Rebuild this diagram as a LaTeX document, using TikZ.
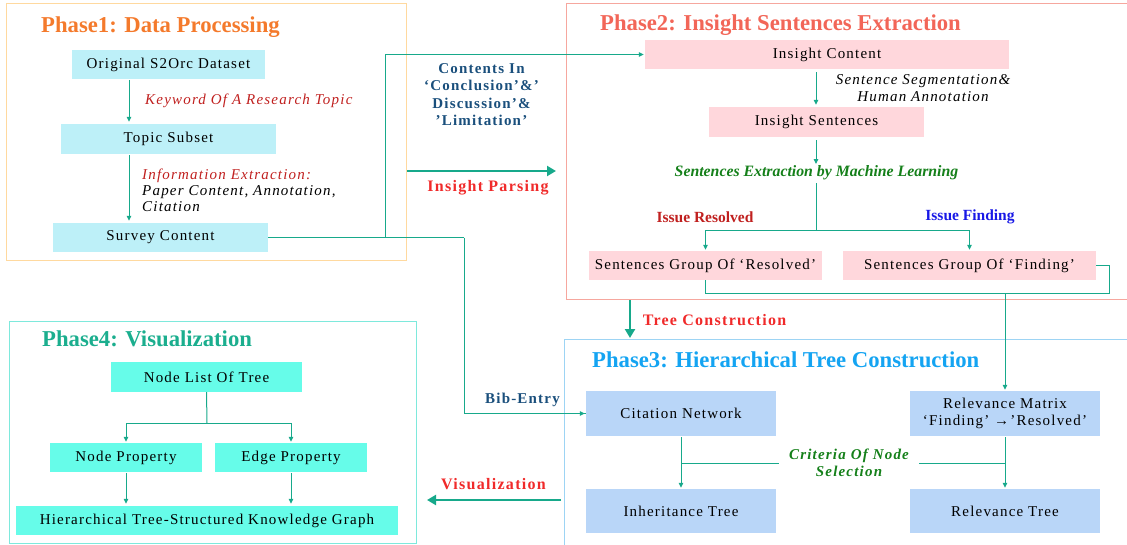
\documentclass[tikz,border=0pt]{standalone}
\usepackage{fontspec}
\setmainfont{Liberation Serif}
\newfontfamily\spacedserif[LetterSpace=8]{Liberation Serif}
\usetikzlibrary{arrows.meta}
\definecolor{lc}{HTML}{17A98B}
\definecolor{f1}{HTML}{BDF0F8}
\definecolor{f2}{HTML}{FFD7DC}
\definecolor{f3}{HTML}{B9D6F8}
\definecolor{f4}{HTML}{66FCE9}
\definecolor{fr1}{HTML}{FFD99F}
\definecolor{fr2}{HTML}{F6A79E}
\definecolor{fr3}{HTML}{9DD4F4}
\definecolor{fr4}{HTML}{7EE9DC}
\definecolor{t1}{HTML}{F47A2C}
\definecolor{t2}{HTML}{F26658}
\definecolor{t3}{HTML}{14A4F2}
\definecolor{t4}{HTML}{1BAE8E}
\definecolor{brightred}{HTML}{F02A2A}
\definecolor{darkred}{HTML}{C0201F}
\definecolor{issueblue}{HTML}{1818E6}
\definecolor{navy}{HTML}{1A4F7C}
\definecolor{dgreen}{HTML}{15801A}
\newcommand\mybodyfont{\spacedserif\fontsize{15}{17}\selectfont}
\newcommand\mytitlefont{\bfseries\fontsize{22.7}{26}\selectfont}
\begin{document}
\begin{tikzpicture}[x=1pt,y=-1pt,
  conn/.style={draw=lc, line width=1pt, -{Triangle[length=5pt,width=4.5pt]}},
  lnk/.style={draw=lc, line width=1pt},
  bigarrow/.style={draw=lc, line width=2.6pt, -{Triangle[length=9pt,width=10pt]}},
  nbox/.style={inner sep=0pt, align=center, font=\mybodyfont, text=black},
  b1/.style={nbox, fill=f1},
  b2/.style={nbox, fill=f2},
  b3/.style={nbox, fill=f3},
  b4/.style={nbox, fill=f4},
  ptitle/.style={anchor=base west, inner sep=0pt, font=\mytitlefont},
  frame/.style={line width=0.8pt},
  lab/.style={inner sep=0pt, align=center, font=\mybodyfont},
  slab/.style={inner sep=0pt, align=center, font=\bfseries\fontsize{15.5}{18}\selectfont},
  redlab/.style={lab, font=\spacedserif\bfseries\fontsize{16}{18}\selectfont, brightred},
]
\useasboundingbox (0,0) rectangle (1127,544);
% frames
\draw[frame, fr1] (6.5,3.5) rectangle (406.5,260);
\draw[frame, fr2] (566.5,3.5) rectangle (1140,299);
\draw[frame, fr3] (564.5,339) rectangle (1140,560);
\draw[frame, fr4] (9.5,321.5) rectangle (416,543);
% titles
\node[ptitle, t1] (ti1) at (41,32) {Phase1: Data Processing};
\node[ptitle, t2] (ti2) at (600,30) {Phase2: Insight Sentences Extraction};
\node[ptitle, t3] (ti3) at (592,367) {Phase3: Hierarchical Tree Construction};
\node[ptitle, t4] (ti4) at (42,346) {Phase4: Visualization};

% Phase 1
\node[b1, minimum width=193pt, minimum height=29pt] (orig) at (168.5,64.5) {Original S2Orc Dataset};
\node[b1, minimum width=215pt, minimum height=30pt] (topic) at (168.5,139) {Topic Subset};
\node[b1, minimum width=215pt, minimum height=29pt] (survey) at (160.5,237.5) {Survey Content};
\coordinate (ax1) at (129,0);
\draw[conn, shorten >=2pt, shorten <=1pt] (orig.south -| ax1) -- (topic.north -| ax1);
\draw[conn, shorten >=2pt, shorten <=1pt] (topic.south -| ax1) -- (survey.north -| ax1);
\node[lab, anchor=west, font=\mybodyfont\itshape, darkred] (kw) at (145,101) {Keyword Of A Research Topic};
\node[lab, anchor=west, align=left, font=\spacedserif\itshape\fontsize{15}{16}\selectfont] (ie) at (142,190)
  {\textcolor{darkred}{Information Extraction:}\\Paper Content, Annotation,\\Citation};

% Phase 2
\node[b2, minimum width=364pt, minimum height=29pt] (ic) at (827,54.5) {Insight Content};
\node[b2, minimum width=215pt, minimum height=30pt] (is) at (816.5,122) {Insight Sentences};
\coordinate (ax2) at (816,0);
\draw[conn, shorten >=2pt, shorten <=3pt] (ic.south -| ax2) -- (is.north -| ax2);
\node[lab, font=\spacedserif\itshape\fontsize{15}{17}\selectfont] (seg) at (923,88.5) {Sentence Segmentation\&\\Human Annotation};
\node[slab, font=\bfseries\itshape\fontsize{15.8}{18}\selectfont, dgreen] (ml) at (816.5,173) {Sentences Extraction by Machine Learning};
\coordinate (mlin) at (816,164);
\draw[conn, shorten <=3pt] (is.south -| ax2) -- (mlin);
\coordinate (mlout) at (816,183);
\coordinate (split) at (816,230);
\node[b2, minimum width=233pt, minimum height=29pt] (gr) at (705.5,265.5) {Sentences Group Of ‘Resolved’};
\node[b2, minimum width=253pt, minimum height=29pt] (gf) at (969.5,265.5) {Sentences Group Of ‘Finding’};
\draw[lnk] (mlout) -- (split);
\draw[conn, shorten >=1pt] (split) -| (gr.north);
\draw[conn, shorten >=1pt] (split) -| (gf.north);
\node[slab, darkred] (ir) at (705,217) {Issue Resolved};
\node[slab, issueblue] (ifd) at (970,217) {Issue Finding};
\coordinate (gjoin) at (1005,293);
\coordinate (gright) at (1109,293);
\draw[lnk] (gr.south) |- (gright) |- (gf.east);

% middle connectors
\coordinate (jn1) at (385,237.5);
\coordinate (jn2) at (464,237.5);
\draw[lnk] (survey.east) -- (jn2);
\draw[conn, shorten >=1pt] (jn1) |- (ic.west);
\node[lab, font=\spacedserif\bfseries\fontsize{15}{17.5}\selectfont, navy] (contents) at (481.5,94.5)
  {Contents In\\‘Conclusion’\&’\\Discussion’\&\\’Limitation’};
\coordinate (ip1) at (407,171);
\coordinate (ip2) at (556,171);
\draw[bigarrow] (ip1) -- (ip2);
\node[redlab] (ipl) at (488,188) {Insight Parsing};
\coordinate (tc1) at (630,300);
\coordinate (tc2) at (630,338);
\draw[bigarrow] (tc1) -- (tc2);
\node[redlab] (tcl) at (714.5,320) {Tree Construction};
\coordinate (vz1) at (561,500);
\coordinate (vz2) at (427,500);
\draw[bigarrow] (vz1) -- (vz2);
\node[redlab] (vzl) at (493.5,484) {Visualization};

% Phase 3
\node[b3, minimum width=190pt, minimum height=45pt] (cit) at (681,413.5) {Citation Network};
\node[b3, minimum width=190pt, minimum height=44pt] (inh) at (681,511) {Inheritance Tree};
\node[b3, minimum width=190pt, minimum height=45pt, font=\spacedserif\fontsize{15}{17}\selectfont] (rm) at (1005,413.5) {Relevance Matrix\\‘Finding’ →’Resolved’};
\node[b3, minimum width=190pt, minimum height=44pt] (rt) at (1005,511) {Relevance Tree};
\draw[lnk] (jn2) |- (cit.west);
\draw[conn, shorten >=1pt] (jn2 |- cit.west) -- (cit.west);
\node[lab, font=\spacedserif\bfseries\fontsize{15}{17}\selectfont, navy] (bib) at (522.5,400) {Bib-Entry};
\draw[conn, shorten >=1pt] (gjoin) -- (rm.north);
\draw[conn, shorten >=1pt, shorten <=1pt] (cit.south) -- (inh.north);
\draw[conn, shorten >=1pt, shorten <=1pt] (rm.south) -- (rt.north);
\node[lab, font=\spacedserif\bfseries\itshape\fontsize{15}{17}\selectfont, dgreen, minimum width=140pt] (crit) at (849,463) {Criteria Of Node\\Selection};
\coordinate (cr1) at (681,463);
\coordinate (cr2) at (1005,463);
\draw[lnk] (cr1) -- (crit.west);
\draw[lnk] (crit.east) -- (cr2);

% Phase 4
\node[b4, minimum width=191pt, minimum height=30pt] (nl) at (206.5,377) {Node List Of Tree};
\node[b4, minimum width=152pt, minimum height=29pt] (np) at (126,457.5) {Node Property};
\node[b4, minimum width=152pt, minimum height=29pt] (ep) at (291,457.5) {Edge Property};
\node[b4, minimum width=382pt, minimum height=29pt] (hk) at (207,520.5) {Hierarchical Tree-Structured Knowledge Graph};
\coordinate (sp4) at (207,423);
\draw[lnk] (nl.south) -- (sp4);
\draw[conn, shorten >=1pt] (sp4) -| (np.north);
\draw[conn, shorten >=1pt] (sp4) -| (ep.north);
\draw[conn, shorten >=2pt, shorten <=1pt] (np.south) -- (np.south |- hk.north);
\draw[conn, shorten >=2pt, shorten <=1pt] (ep.south) -- (ep.south |- hk.north);
\end{tikzpicture}
\end{document}
